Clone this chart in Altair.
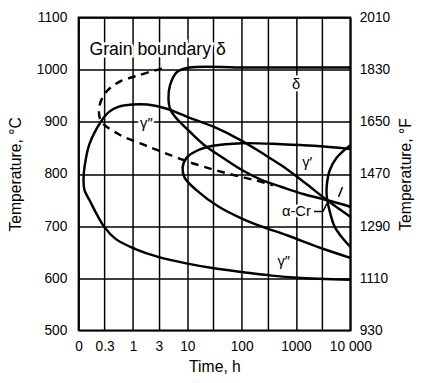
import altair as alt
import pandas as pd

FONT = "Liberation Sans"

X_TICKS = [0.1, 0.3, 1, 3, 10, 30, 100, 300, 1000, 3000, 10000]
Y_TICKS = [500, 600, 700, 800, 900, 1000, 1100]

# gamma'' C-curve: upper branch from the right, round the nose, lower branch to the right
gpp_t = [10000, 3690, 1419, 545, 237, 103, 29.7, 9.7, 4.2, 1.84, 0.98, 0.55, 0.363, 0.26,
         0.158, 0.128, 0.123, 0.128, 0.158, 0.294, 0.485, 1.11, 2.9, 10.1, 31, 117, 360, 1060, 10000]
gpp_T = [718, 750, 784, 816, 840, 863, 891, 910, 925, 933, 933, 929, 919, 901,
         857, 812, 788, 769, 750, 699, 675, 656, 641, 628, 619, 611, 605, 601, 597]

# delta C-curve
delta_t = [10000, 117, 11, 6.4, 4.8, 4.5, 4.8, 5.9, 9.7, 19.6, 45, 103, 237, 545, 1419, 3690, 10000]
delta_T = [1004, 1004, 1004, 995, 970, 944, 925, 910, 887, 857, 831, 807, 788, 775, 761, 750, 737]

# gamma' C-curve
gp_t = [10000, 2148, 545, 103, 29.7, 14.7, 9.7, 8.2, 8.9, 14.7, 38, 103, 237, 700, 2870, 10000]
gp_T = [848, 854, 857, 859, 854, 844, 831, 812, 793, 769, 737, 714, 699, 682, 658, 639]

# grain boundary delta (dashed)
gb_t = [3.42, 1.26, 0.55, 0.32, 0.24, 0.26, 0.55, 1.49, 3.87, 12.9, 33.7, 77, 177, 375]
gb_T = [1002, 989, 976, 957, 929, 901, 876, 857, 840, 820, 807, 797, 788, 778]

# alpha-Cr arc
acr_t = [10000, 5585, 4180, 3690, 3690, 4180, 5140, 7180, 10000]
acr_T = [855, 831, 807, 778, 756, 728, 699, 677, 660]

# alpha-Cr leader and small mark
lead_t = [2148, 3126, 3690]
lead_T = [728, 728, 743]
mark_t = [6067, 7180]
mark_T = [756, 775]

# labels
lab_text = ["δ", "γ″", "γ′", "α-Cr", "γ″"]
lab_t = [1000, 1.76, 1607, 1016, 593]
lab_T = [972, 897, 822, 728, 632]
head_text = ["Grain boundary δ"]
head_t = [0.158]
head_T = [1038]


def curves(named):
    rows = []
    for name, ts, Ts in named:
        for i, (a, b) in enumerate(zip(ts, Ts)):
            rows.append({"curve": name, "t": a, "T": b, "i": i})
    return pd.DataFrame(rows)


XLAB = ("datum.value < 0.2 ? '0' : datum.value == 0.3 ? '0.3' : datum.value > 5000 ? '10 000' : "
        "(datum.value == 30 || datum.value == 300 || datum.value == 3000) ? '' : format(datum.value, 'd')")

x_scale = alt.Scale(type="log", domain=[0.1, 10000], nice=False)
y_scale = alt.Scale(domain=[500, 1100], nice=False, zero=False)

common_axis = dict(
    ticks=False, tickSize=0, domain=False, labelFontSize=14, labelFont=FONT, labelColor="black",
    titleFont=FONT, titleFontSize=16, titleFontWeight="normal", titleColor="black",
    labelOverlap=False, labelFlush=False, labelBound=False,
)

x_enc = alt.X("t:Q", scale=x_scale, axis=alt.Axis(
    values=X_TICKS, labelExpr=XLAB, title="Time, h", grid=True, gridColor="black",
    gridWidth=1.5, gridOpacity=1, labelPadding=10, titleX=138.5, titleY=42,
    titleBaseline="alphabetic", **common_axis))

y_enc = alt.Y("T:Q", scale=y_scale, axis=alt.Axis(
    values=Y_TICKS, format="d", title="Temperature, °C", grid=True, gridColor="black",
    gridWidth=1.5, gridOpacity=1, labelPadding=12, titleX=-64, titleY=159.5,
    titleBaseline="middle", titleAngle=270, **common_axis))

y_right = alt.Y("T:Q", scale=y_scale, axis=alt.Axis(
    orient="right", values=Y_TICKS, labelExpr="format(floor((datum.value*1.8+32)/10)*10, 'd')",
    title="Temperature, °F", grid=False, labelPadding=9, titleX=56, titleY=159.5,
    titleBaseline="middle", titleAngle=270, **common_axis))

solid = alt.Chart(curves([("gpp", gpp_t, gpp_T), ("delta", delta_t, delta_T),
                          ("gp", gp_t, gp_T), ("acr", acr_t, acr_T)])).mark_line(
    interpolate="catmull-rom", color="black", strokeWidth=2.5, clip=True
).encode(x=x_enc, y=y_enc, detail="curve:N", order="i:Q")

thin = alt.Chart(curves([("lead", lead_t, lead_T), ("mark", mark_t, mark_T)])).mark_line(
    color="black", strokeWidth=1.5, clip=True
).encode(x=x_enc, y=y_enc, detail="curve:N", order="i:Q")

dashed = alt.Chart(curves([("gb", gb_t, gb_T)])).mark_line(
    interpolate="catmull-rom", color="black", strokeWidth=2.5, strokeDash=[8, 6], clip=True
).encode(x=x_enc, y=y_enc, detail="curve:N", order="i:Q")

labels_df = pd.DataFrame({"text": lab_text, "t": lab_t, "T": lab_T})
head_df = pd.DataFrame({"text": head_text, "t": head_t, "T": head_T})

lab_halo = alt.Chart(labels_df).mark_text(
    font=FONT, fontSize=15, color="white", stroke="white", strokeWidth=5, baseline="middle"
).encode(x=x_enc, y=y_enc, text="text:N")
lab_txt = alt.Chart(labels_df).mark_text(
    font=FONT, fontSize=15, color="black", baseline="middle"
).encode(x=x_enc, y=y_enc, text="text:N")

head_halo = alt.Chart(head_df).mark_text(
    font=FONT, fontSize=18, color="white", stroke="white", strokeWidth=5, baseline="middle", align="left"
).encode(x=x_enc, y=y_enc, text="text:N")
head_txt = alt.Chart(head_df).mark_text(
    font=FONT, fontSize=18, color="black", baseline="middle", align="left"
).encode(x=x_enc, y=y_enc, text="text:N")

inner = alt.layer(lab_halo, head_halo, solid, thin, dashed, lab_txt, head_txt)

right = alt.Chart(pd.DataFrame({"T": Y_TICKS, "t": [0.1] * len(Y_TICKS)})).mark_point(
    opacity=0
).encode(x=x_enc, y=y_right)

chart = alt.layer(inner, right).resolve_axis(y="independent").properties(
    width=277, height=319,
    autosize=alt.AutoSizeParams(type="none"),
    padding={"left": 72, "top": 6, "right": 70, "bottom": 52},
).configure_view(stroke="black", strokeWidth=2)

chart.save("out.html", embed_options={"renderer": "svg", "actions": False})
